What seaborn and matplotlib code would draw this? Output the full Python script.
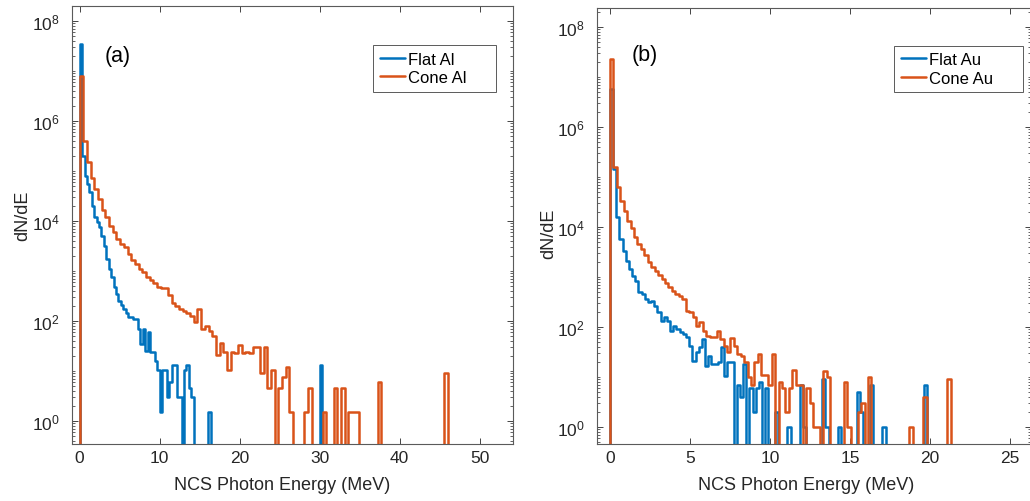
import numpy as np
import matplotlib
matplotlib.use("Agg")
import matplotlib.pyplot as plt
import seaborn as sns
from matplotlib.ticker import FixedLocator, LogLocator, NullFormatter, FuncFormatter

# Bin widths of each spectrum (MeV); bins start at 0 MeV
flat_al_bin_width = 0.303
cone_al_bin_width = 0.46
flat_au_bin_width = 0.198
cone_au_bin_width = 0.215

# dN/dE per bin
flat_al = [3.5e7, 2.0e5, 7.9e4, 5.5e4, 3.8e4, 2.0e4, 1.2e4, 9.5e3, 7.6e3, 5.0e3,
           3.2e3, 1.74e3, 1.1e3, 760, 480, 350, 250, 210, 174, 145,
           120, 120, 110, 110, 69, 35, 69, 25, 60, 24,
           24, 16, 10.5, 1.5, 10.5, 10.5, 3.0, 6.0, 13.5, 13.5,
           3.0, 3.0, 0, 10.5, 13.5, 4.5, 3.0, 0, 0, 0,
           0, 0, 0, 1.5, 0, 0, 0, 0, 0, 0,
           0, 0, 0, 0, 0, 0, 0, 0, 0, 0,
           0, 0, 0, 0, 0, 0, 0, 0, 0, 0,
           0, 0, 0, 0, 0, 0, 0, 0, 0, 0,
           0, 0, 0, 0, 0, 0, 0, 0, 0, 13.5]

cone_al = [8.1e6, 3.9e5, 1.5e5, 7.2e4, 4.4e4, 2.75e4, 1.7e4, 1.2e4, 7.9e3, 6.0e3,
           4.4e3, 3.5e3, 3.0e3, 2.2e3, 1.7e3, 1.4e3, 1.1e3, 950, 760, 660,
           575, 480, 457, 450, 330, 230, 200, 174, 158, 145,
           126, 95, 174, 69, 79, 63, 50, 21, 36, 24,
           10.5, 24, 23, 33, 23, 24, 23, 30, 30, 9.0,
           30, 4.5, 10.5, 0, 4.5, 7.5, 12, 1.5, 0, 0,
           0, 1.5, 4.5, 0, 0, 0, 1.5, 0, 0, 4.5,
           0, 4.5, 0, 1.5, 1.5, 1.5, 0, 0, 0, 0,
           0, 6.0, 0, 0, 0, 0, 0, 0, 0, 0,
           0, 0, 0, 0, 0, 0, 0, 0, 0, 9.0]

flat_au = [5.8e6, 1.45e5, 1.6e4, 5.8e3, 3.3e3, 2.1e3, 1.45e3, 1.05e3, 830, 500,
           457, 363, 316, 331, 263, 200, 132, 158, 132, 83,
           105, 91, 79, 72, 63, 42, 21, 32, 40, 58,
           17, 26, 18, 18, 20, 40, 10.5, 20, 20, 0,
           7, 4, 18, 0, 6, 2, 6, 8, 0, 6,
           0, 0, 2, 0, 0, 0, 1, 0, 0, 0,
           7, 1, 0, 0, 0, 0, 0, 9, 1, 0,
           0, 0, 1, 0, 0, 0, 0, 0, 5, 2,
           0, 0, 7, 0, 0, 0, 1, 0, 0, 0,
           0, 0, 0, 0, 0, 0, 0, 0, 0, 7]

cone_au = [2.3e7, 1.6e5, 6.3e4, 3.3e4, 2.1e4, 1.3e4, 9.5e3, 6.3e3, 4.6e3, 3.6e3,
           2.75e3, 2.0e3, 1.6e3, 1.3e3, 1.1e3, 910, 760, 630, 525, 457,
           417, 363, 209, 200, 158, 105, 126, 83, 66, 63,
           63, 83, 58, 42, 32, 60, 42, 29, 26, 20,
           10, 7, 20, 29, 11, 11, 7, 29, 0, 8,
           6, 2, 6, 14, 7, 7, 0, 6, 3, 1,
           1, 0, 13, 10, 0, 0, 0, 0, 8, 1,
           0, 0, 2, 3, 0, 10, 0, 0, 0, 0,
           0, 0, 0, 0, 0, 0, 0, 1, 0, 0,
           0, 4, 0, 0, 0, 0, 0, 0, 9, 0]

panel_tags = ["(a)", "(b)"]
legend_labels = [["Flat Al", "Cone Al"], ["Flat Au", "Cone Au"]]
x_ticks = [[0, 10, 20, 30, 40, 50], [0, 5, 10, 15, 20, 25]]
y_ticks = [1e0, 1e2, 1e4, 1e6, 1e8]

BLUE = "#0072BD"
ORANGE = "#D95319"
INK = "#262626"

sns.set_theme(style="white")
plt.rcParams["font.family"] = ["Liberation Sans", "DejaVu Sans"]


def draw_spectrum(ax, values, width, color, label):
    """Step histogram of one spectrum, padded with an empty bin on each side."""
    heights = np.concatenate([[0.0], np.asarray(values, dtype=float), [0.0]])
    edges = width * np.arange(-1, len(values) + 2)
    centers = 0.5 * (edges[:-1] + edges[1:])
    sns.histplot(x=centers, weights=heights, bins=edges.tolist(), element="step",
                 fill=False, color=color, linewidth=1.8, label=label, ax=ax)


fig = plt.figure(figsize=(10.3, 5.02), dpi=100)
ax_a = fig.add_axes([0.0699, 0.1135, 0.4282, 0.8725])
ax_b = fig.add_axes([0.5796, 0.1135, 0.4214, 0.8685])

pad = "     "
draw_spectrum(ax_a, flat_al, flat_al_bin_width, BLUE, legend_labels[0][0] + pad)
draw_spectrum(ax_a, cone_al, cone_al_bin_width, ORANGE, legend_labels[0][1] + pad)
draw_spectrum(ax_b, flat_au, flat_au_bin_width, BLUE, legend_labels[1][0] + pad)
draw_spectrum(ax_b, cone_au, cone_au_bin_width, ORANGE, legend_labels[1][1] + pad)

limits = [((-0.96, 54.16), (10 ** -0.46, 10 ** 8.3)),
          ((-0.81, 26.31), (10 ** -0.34, 10 ** 8.38))]
tag_pos = [(0.075, 0.8865), (0.0805, 0.8945)]
legend_anchor = [(0.9615, 0.911), (0.981, 0.9135)]
xlabel_x = [0.476, 0.482]
ylabel_y = [0.523, 0.485]

for i, ax in enumerate([ax_a, ax_b]):
    ax.set_yscale("log")
    ax.set_xlim(*limits[i][0])
    ax.set_ylim(*limits[i][1])
    ax.set_facecolor("white")

    ax.xaxis.set_major_locator(FixedLocator(x_ticks[i]))
    ax.yaxis.set_major_locator(FixedLocator(y_ticks))
    ax.yaxis.set_major_formatter(
        FuncFormatter(lambda v, pos: r"$\mathdefault{10^{%d}}$" % round(np.log10(v))))
    ax.yaxis.set_minor_locator(LogLocator(base=10, subs=np.arange(1, 10), numticks=40))
    ax.yaxis.set_minor_formatter(NullFormatter())

    ax.tick_params(which="both", direction="in", bottom=True, left=True,
                   top=True, right=True, color=INK)
    ax.tick_params(which="major", length=4.5, width=0.6, labelsize=12.5,
                   labelcolor=INK)
    ax.tick_params(axis="x", which="major", pad=4.5)
    ax.tick_params(axis="y", which="major", pad=9)
    ax.tick_params(axis="y", which="minor", length=2.2, width=0.5)
    ax.tick_params(axis="x", which="minor", bottom=False, top=False)

    for spine in ax.spines.values():
        spine.set_color("#5a5a5a")
        spine.set_linewidth(0.8)

    ax.set_xlabel("NCS Photon Energy (MeV)", fontsize=13, color=INK)
    ax.set_ylabel("dN/dE", fontsize=13, color=INK)
    ax.xaxis.set_label_coords(xlabel_x[i], -0.073)
    ax.yaxis.set_label_coords(-0.0925, ylabel_y[i])

    ax.text(tag_pos[i][0], tag_pos[i][1], panel_tags[i], transform=ax.transAxes,
            fontsize=15.5, color="black", ha="left", va="center")

    leg = ax.legend(loc="upper right", bbox_to_anchor=legend_anchor[i],
                    fontsize=12, frameon=True, fancybox=False, framealpha=1,
                    edgecolor="#5a5a5a", borderpad=0.39, labelspacing=0.22,
                    handlelength=1.5, handletextpad=0.2, borderaxespad=0)
    leg.get_frame().set_linewidth(0.7)
    for line in leg.get_lines():
        line.set_linewidth(1.8)
    for t in leg.get_texts():
        t.set_color("black")

fig.savefig("out.png", dpi=100, facecolor="white")
